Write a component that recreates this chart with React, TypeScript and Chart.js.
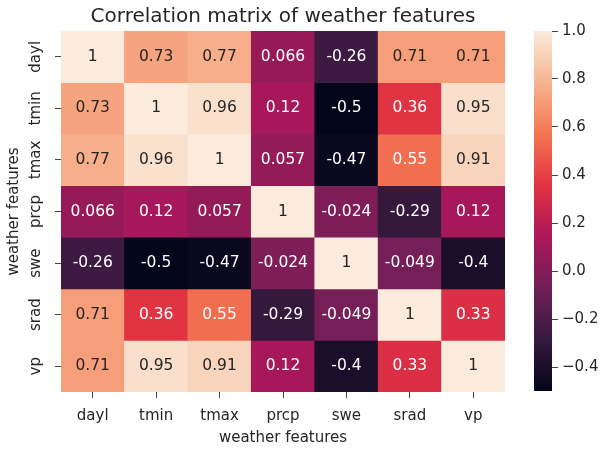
import { useEffect, useRef } from "react";
import { Chart, registerables } from "chart.js";
Chart.register(...registerables);

const features = ["dayl", "tmin", "tmax", "prcp", "swe", "srad", "vp"];
const dayl = [1, 0.73, 0.77, 0.066, -0.26, 0.71, 0.71];
const tmin = [0.73, 1, 0.96, 0.12, -0.5, 0.36, 0.95];
const tmax = [0.77, 0.96, 1, 0.057, -0.47, 0.55, 0.91];
const prcp = [0.066, 0.12, 0.057, 1, -0.024, -0.29, 0.12];
const swe = [-0.26, -0.5, -0.47, -0.024, 1, -0.049, -0.4];
const srad = [0.71, 0.36, 0.55, -0.29, -0.049, 1, 0.33];
const vp = [0.71, 0.95, 0.91, 0.12, -0.4, 0.33, 1];
const matrix = [dayl, tmin, tmax, prcp, swe, srad, vp];
const colorbarTicks = [-0.4, -0.2, 0, 0.2, 0.4, 0.6, 0.8, 1.0];
const valueMin = -0.5;
const valueMax = 1.0;
const titleText = "Correlation matrix of weather features";
const axisTitle = "weather features";

// seaborn "rocket" colormap anchors
const rocketStops: [number, number[]][] = [
  [0, [3, 5, 26]],
  [1 / 7, [53, 25, 62]],
  [2 / 7, [112, 31, 87]],
  [3 / 7, [173, 23, 89]],
  [4 / 7, [225, 51, 66]],
  [5 / 7, [243, 118, 81]],
  [6 / 7, [246, 180, 143]],
  [1, [250, 235, 221]],
];

function rocketRGB(t: number): number[] {
  const tt = Math.max(0, Math.min(1, t));
  for (let i = 0; i < rocketStops.length - 1; i++) {
    const [t0, c0] = rocketStops[i];
    const [t1, c1] = rocketStops[i + 1];
    if (tt <= t1) {
      const f = (tt - t0) / (t1 - t0);
      return c0.map((c, k) => Math.round(c + (c1[k] - c) * f));
    }
  }
  return rocketStops[rocketStops.length - 1][1];
}
const rgbStr = (c: number[]) => `rgb(${c[0]},${c[1]},${c[2]})`;
const valueRGB = (v: number) => rocketRGB((v - valueMin) / (valueMax - valueMin));

function luminance(c: number[]) {
  const lin = c.map((x) => {
    const s = x / 255;
    return s <= 0.03928 ? s / 12.92 : Math.pow((s + 0.055) / 1.055, 2.4);
  });
  return 0.2126 * lin[0] + 0.7152 * lin[1] + 0.0722 * lin[2];
}

const fmtAnnot = (v: number) => String(Number(v.toPrecision(2)));
const fmtCbar = (v: number) => Number(v).toFixed(1).replace("-", "\u2212");

const FONT = "'DejaVu Sans', sans-serif";
const TEXT = "#262626";
const TICKC = "#444";

const annotPlugin = {
  id: "annot",
  afterDatasetsDraw(chart: any) {
    const ctx = chart.ctx;
    ctx.save();
    ctx.font = `15.5px ${FONT}`;
    ctx.textAlign = "center";
    ctx.textBaseline = "middle";
    chart.data.datasets.forEach((_: any, i: number) => {
      const meta = chart.getDatasetMeta(i);
      meta.data.forEach((bar: any, j: number) => {
        const p = bar.getProps(["x", "y", "base"], true);
        const v = matrix[i][j];
        ctx.fillStyle = luminance(valueRGB(v)) < 0.408 ? "#ffffff" : TEXT;
        ctx.fillText(fmtAnnot(v), p.x, (p.y + p.base) / 2);
      });
    });
    ctx.restore();
  },
};

export default function App() {
  const mainRef = useRef<HTMLCanvasElement>(null);
  const cbarRef = useRef<HTMLCanvasElement>(null);

  useEffect(() => {
    const main = new Chart(mainRef.current!, {
      type: "bar",
      data: {
        labels: features,
        datasets: features.map((name, i) => ({
          label: name,
          data: features.map(() => [i, i + 1]),
          backgroundColor: matrix[i].map((v) => rgbStr(valueRGB(v))),
          borderWidth: 0,
          barPercentage: 1,
          categoryPercentage: 1,
          grouped: false,
        })),
      } as any,
      options: {
        responsive: false,
        animation: false,
        layout: { padding: { left: 0, right: 96, top: 0, bottom: 0 } },
        scales: {
          x: {
            type: "category",
            afterFit: (a: any) => {
              a.height = 58;
            },
            grid: { offset: false, drawOnChartArea: false, drawTicks: true, tickLength: 6, color: TICKC, lineWidth: 1 },
            border: { display: false },
            ticks: { color: TEXT, font: { family: FONT, size: 15 }, padding: 9 },
            title: { display: true, text: axisTitle, color: TEXT, font: { family: FONT, size: 15 }, padding: { top: 0, bottom: 3 } },
          },
          y: {
            type: "linear",
            min: 0,
            max: features.length,
            reverse: true,
            afterBuildTicks: (a: any) => {
              a.ticks = features.map((_, i) => ({ value: i + 0.5 }));
            },
            afterFit: (a: any) => {
              a.width = 61;
            },
            grid: { drawOnChartArea: false, drawTicks: true, tickLength: 6, color: TICKC, lineWidth: 1 },
            border: { display: false },
            ticks: {
              color: TEXT,
              font: { family: FONT, size: 15 },
              padding: 0,
              minRotation: 90,
              maxRotation: 90,
              crossAlign: "center",
              callback: (_v: any, idx: number) => features[idx],
            },
            title: { display: true, text: axisTitle, color: TEXT, font: { family: FONT, size: 15 }, padding: { top: 5, bottom: 0 } },
          },
        },
        plugins: {
          legend: { display: false },
          tooltip: { enabled: false },
          title: {
            display: true,
            fullSize: false,
            text: titleText,
            color: TEXT,
            font: { family: FONT, size: 20, weight: "normal" },
            padding: { top: 5, bottom: 2 },
          },
        },
      } as any,
      plugins: [annotPlugin],
    });

    const cbar = new Chart(cbarRef.current!, {
      type: "bar",
      data: {
        labels: ["colorbar"],
        datasets: [
          {
            data: [[valueMin, valueMax]],
            backgroundColor: (c: any) => {
              const chart = c.chart;
              if (!chart.chartArea) return rgbStr(valueRGB(0.25));
              const ys = chart.scales.y;
              const g = chart.ctx.createLinearGradient(0, ys.getPixelForValue(valueMin), 0, ys.getPixelForValue(valueMax));
              rocketStops.forEach(([t, col]) => g.addColorStop(t, rgbStr(col)));
              return g;
            },
            borderWidth: 0,
            barPercentage: 1,
            categoryPercentage: 1,
          },
        ],
      } as any,
      options: {
        responsive: false,
        animation: false,
        layout: { padding: { left: 534, right: 0, top: 31, bottom: 59 } },
        scales: {
          x: { display: false },
          y: {
            position: "right",
            min: valueMin,
            max: valueMax,
            afterBuildTicks: (a: any) => {
              a.ticks = colorbarTicks.map((v) => ({ value: v }));
            },
            afterFit: (a: any) => {
              a.width = 49;
            },
            grid: { drawOnChartArea: false, drawTicks: true, tickLength: 6, color: TICKC, lineWidth: 1 },
            border: { display: false },
            ticks: { color: TEXT, font: { family: FONT, size: 15 }, padding: 4, callback: (v: any) => fmtCbar(v) },
          },
        },
        plugins: { legend: { display: false }, tooltip: { enabled: false }, title: { display: false } },
      } as any,
    });

    return () => {
      main.destroy();
      cbar.destroy();
    };
  }, []);

  return (
    <div style={{ position: "fixed", left: 0, top: 0, width: 601, height: 450, background: "#fff" }}>
      <canvas ref={mainRef} width={601} height={450} style={{ position: "absolute", left: 0, top: 0 }} />
      <canvas ref={cbarRef} width={601} height={450} style={{ position: "absolute", left: 0, top: 0 }} />
    </div>
  );
}
